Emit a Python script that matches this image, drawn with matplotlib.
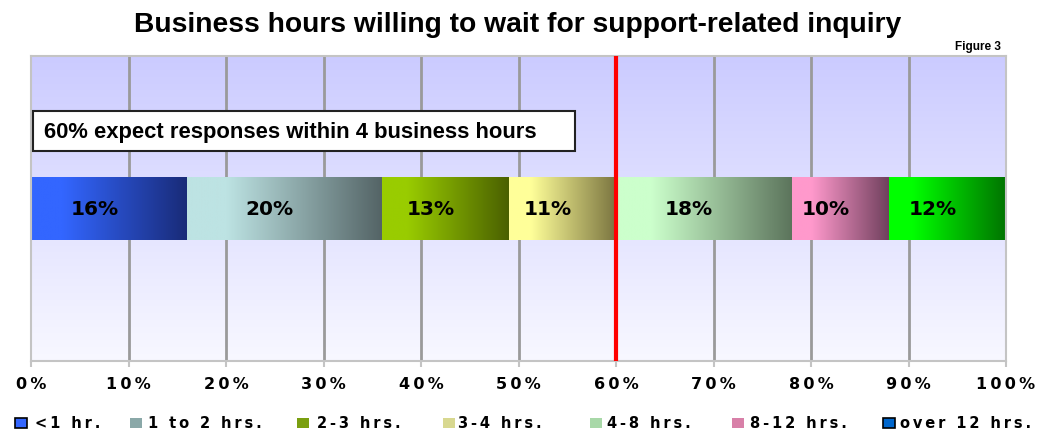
import matplotlib
matplotlib.use("Agg")
import matplotlib.pyplot as plt
import numpy as np
from matplotlib.colors import LinearSegmentedColormap
from matplotlib.patches import Rectangle

# Data
categories = ["<1 hr.", "1 to 2 hrs.", "2-3 hrs.", "3-4 hrs.", "4-8 hrs.", "8-12 hrs.", "over 12 hrs."]
shares = [16, 20, 13, 11, 18, 10, 12]
tick_values = [0, 10, 20, 30, 40, 50, 60, 70, 80, 90, 100]
threshold = 60
note = "60% expect responses within 4 business hours"
title = "Business hours willing to wait for support-related inquiry"

# Style: (light, dark) gradient ends per segment
grad_colors = [("#3366ff", "#192b78"), ("#bde3e3", "#546466"), ("#99cc00", "#4a6000"),
               ("#ffff99", "#7a7440"), ("#ccffcc", "#5c745c"), ("#ff99cc", "#6e3f5c"),
               ("#00ff00", "#007400")]
legend_colors = ["#3366ff", "#8aa8a8", "#7a9f10", "#d8d890", "#a8d8a8", "#d880a8", "#0066cc"]
legend_edges = ["black", "none", "none", "none", "none", "none", "black"]


def spaced(s, sep):
    return sep.join(s)


fig = plt.figure(figsize=(10.6, 4.35), dpi=100)
ax = fig.add_axes([31 / 1060, 1 - 362 / 435, 975 / 1060, 305 / 435])

# background gradient
bg = LinearSegmentedColormap.from_list("bg", ["#cbcbff", "#f8f8ff"])
ax.imshow(np.linspace(0, 1, 256).reshape(-1, 1), cmap=bg, aspect="auto",
          extent=[0, 100, -1, 1], zorder=0, origin="upper")

for t in tick_values[1:-1]:
    ax.axvline(t, color="#9a9a9a", lw=2, zorder=1)

# stacked gradient bars
h = 0.41
left = 0
for val, (c0, c1) in zip(shares, grad_colors):
    cm = LinearSegmentedColormap.from_list("g", [(0, c0), (0.2, c0), (1, c1)], N=256)
    ax.imshow(np.linspace(0, 1, 256).reshape(1, -1), cmap=cm, aspect="auto",
              extent=[left, left + val, -h / 2, h / 2], zorder=2)
    ax.text(left + val / 2 - 1.5, 0, f"{val}%", ha="center", va="center",
            fontsize=14.5, fontweight="bold", family="DejaVu Sans", zorder=4)
    left += val

ax.axvline(threshold, color="#ff0000", lw=3, zorder=3)

# annotation box
ax.add_patch(Rectangle((0.002, 0.688), 0.556, 0.131, transform=ax.transAxes,
                       facecolor="white", edgecolor="#222222", lw=1.5, zorder=5))
ax.text(0.013, 0.754, note, transform=ax.transAxes, ha="left", va="center",
        fontsize=15.8, fontweight="bold", family="Liberation Sans", zorder=6)

ax.set_xlim(0, 100)
ax.set_ylim(-1, 1)
ax.set_yticks([])
ax.set_xticks(tick_values)
ax.set_xticklabels([spaced(f"{t}%", "\u2009") for t in tick_values],
                   fontsize=11.5, fontweight="bold", family="DejaVu Sans")
ax.tick_params(axis="x", length=4, width=1.5, color="#c4c4c4", direction="out", pad=7)
for s in ax.spines.values():
    s.set_color("#c4c4c4")
    s.set_linewidth(1.5)

fig.text(518 / 1060, 1 - 25 / 435, title, ha="center", va="center",
         fontsize=20.3, fontweight="bold", family="Liberation Sans")
fig.text(1001 / 1060, 1 - 47 / 435, "Figure 3", ha="right", va="center",
         fontsize=8.5, fontweight="bold", family="Liberation Sans")

# legend
marker_x = [15, 130, 297, 443, 590, 732, 883]
text_x = [35, 148, 317, 458, 607, 750, 900]
ly = 1 - 424 / 435
for cat, mx, tx, fc, ec in zip(categories, marker_x, text_x, legend_colors, legend_edges):
    fig.add_artist(Rectangle((mx / 1060, ly - 5 / 435), 12 / 1060, 10 / 435,
                             transform=fig.transFigure, facecolor=fc, edgecolor=ec, lw=1.2))
    fig.text(tx / 1060, ly, spaced(cat, "\u2009"), ha="left", va="center",
             fontsize=10.5, fontweight="bold", family="DejaVu Sans")

fig.savefig("out.png", dpi=100)
